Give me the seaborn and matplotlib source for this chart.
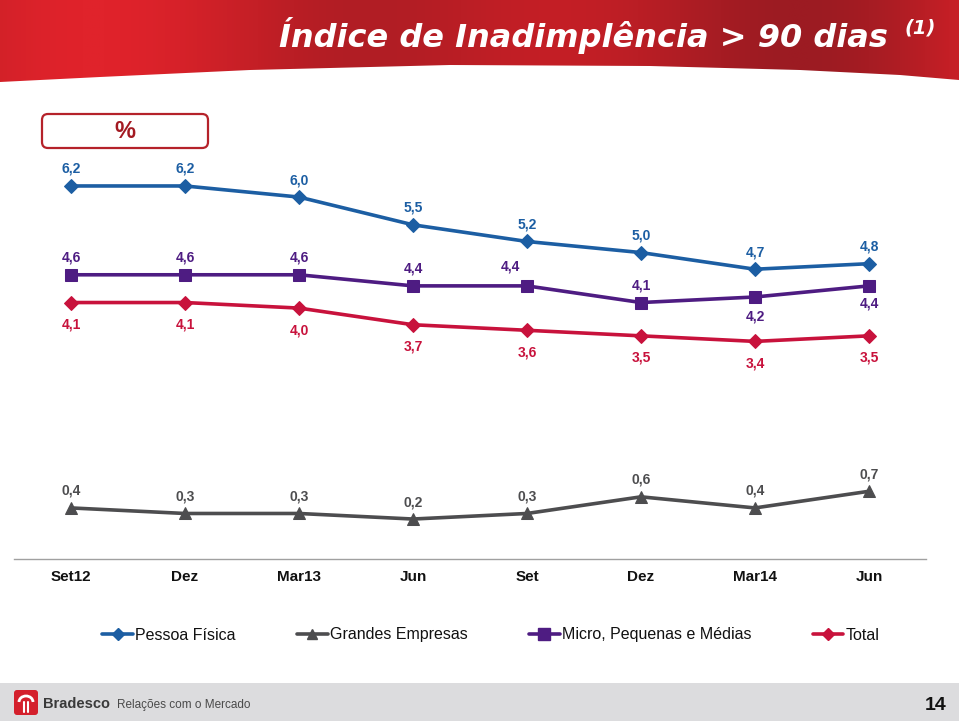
import numpy as np
import pandas as pd
import matplotlib
matplotlib.use("Agg")
import matplotlib.pyplot as plt
from matplotlib.patches import Polygon, FancyBboxPatch, Rectangle, Arc
from matplotlib.lines import Line2D
from matplotlib.colors import LinearSegmentedColormap
import seaborn as sns

# ---------------- data ----------------
categories = ["Set12", "Dez", "Mar13", "Jun", "Set", "Dez", "Mar14", "Jun"]
pessoa_fisica = [6.2, 6.2, 6.0, 5.5, 5.2, 5.0, 4.7, 4.8]
grandes_empresas = [0.4, 0.3, 0.3, 0.2, 0.3, 0.6, 0.4, 0.7]
micro_pme = [4.6, 4.6, 4.6, 4.4, 4.4, 4.1, 4.2, 4.4]
total = [4.1, 4.1, 4.0, 3.7, 3.6, 3.5, 3.4, 3.5]
series_names = ["Pessoa Física", "Grandes Empresas", "Micro, Pequenas e Médias", "Total"]

# ---------------- style ----------------
colors = {
    "Pessoa Física": "#1c5ea3",
    "Grandes Empresas": "#4d4d4f",
    "Micro, Pequenas e Médias": "#4e1c82",
    "Total": "#c8123c",
}
markers = {
    "Pessoa Física": "D",
    "Grandes Empresas": "^",
    "Micro, Pequenas e Médias": "s",
    "Total": "D",
}
msizes = {
    "Pessoa Física": 7,
    "Grandes Empresas": 8,
    "Micro, Pequenas e Médias": 9,
    "Total": 7,
}
# label offsets in pixels (dx, dy) per point
lab_off = {
    "Pessoa Física": [(0, 17)] * 8,
    "Grandes Empresas": [(0, 17)] * 8,
    "Micro, Pequenas e Médias": [(0, 17), (0, 17), (0, 17), (0, 17), (-17, 19), (0, 17), (0, -20), (0, -18)],
    "Total": [(0, -22)] * 8,
}

sns.set_theme(style="white")
plt.rcParams["font.family"] = ["Liberation Sans", "DejaVu Sans"]

W, H = 959, 721
fig = plt.figure(figsize=(W / 100, H / 100), dpi=100)
fig.patch.set_facecolor("white")

# ---------- background decorations ----------
bg = fig.add_axes([0, 0, 1, 1], zorder=-5)
bg.set_xlim(0, W)
bg.set_ylim(H, 0)
bg.axis("off")

curve = [(0, 82), (100, 77), (250, 70), (450, 65), (650, 66), (800, 70), (900, 75), (959, 80)]
banner = Polygon([(0, 0), (W, 0)] + curve[::-1], closed=True, facecolor="none", edgecolor="none")
bg.add_patch(banner)
xg = np.linspace(0, 1, 400)
grad = 0.5 + 0.5 * np.sin(xg * 9.0 + 0.6) * np.cos(xg * 3.0)
grad = np.tile(grad, (40, 1))
cmap = LinearSegmentedColormap.from_list("banner", ["#9c1b22", "#c41f26", "#e0232b"])
im = bg.imshow(grad, extent=[0, W, 95, 0], cmap=cmap, aspect="auto", zorder=0)
im.set_clip_path(banner)

bg.text(888, 36, "Índice de Inadimplência > 90 dias", ha="right", va="center",
        color="white", fontsize=23, fontweight="bold", fontstyle="italic", family="DejaVu Sans")
bg.text(936, 28, "(1)", ha="right", va="center",
        color="white", fontsize=14, fontweight="bold", fontstyle="italic", family="DejaVu Sans")

box = FancyBboxPatch((42, 114), 166, 34, boxstyle="round,pad=0,rounding_size=6",
                     facecolor="white", edgecolor="#b5222a", linewidth=1.6)
bg.add_patch(box)
bg.text(125, 132, "%", ha="center", va="center", color="#a31a22", fontsize=17, fontweight="bold")

# footer
bg.add_patch(Rectangle((0, 683), W, 38, facecolor="#dcdcde", edgecolor="none"))
bg.add_patch(FancyBboxPatch((14, 690), 24, 25, boxstyle="round,pad=0,rounding_size=3",
                            facecolor="#d4202c", edgecolor="none"))
bg.add_patch(Arc((26, 702), 14, 12, theta1=180, theta2=360, color="white", linewidth=2))
bg.plot([24, 24], [702, 712], color="white", linewidth=1.5)
bg.plot([28, 28], [702, 712], color="white", linewidth=1.5)
bg.text(43, 704, "Bradesco", ha="left", va="center", color="#3a3a3a", fontsize=10.5, fontweight="bold")
bg.text(117, 705, "Relações com o Mercado", ha="left", va="center", color="#4a4a4a", fontsize=8.5)
bg.text(947, 705, "14", ha="right", va="center", color="#111111", fontsize=14, fontweight="bold")

# ---------- main chart ----------
ax = fig.add_axes([14 / W, 1 - 559 / H, 912 / W, (559 - 141) / H])
ax.set_facecolor("none")

rows = []
for name, vals in zip(series_names, [pessoa_fisica, grandes_empresas, micro_pme, total]):
    for i, v in enumerate(vals):
        rows.append({"pos": i, "value": v, "series": name})
df = pd.DataFrame(rows)

for name in series_names:
    sub = df[df["series"] == name]
    sns.lineplot(data=sub, x="pos", y="value", ax=ax, color=colors[name], linewidth=2.6,
                 marker=markers[name], markersize=msizes[name], markeredgecolor=colors[name],
                 legend=False, zorder=3)
    for (i, v), (dx, dy) in zip(zip(sub["pos"], sub["value"]), lab_off[name]):
        ax.annotate(f"{v:.1f}".replace(".", ","), (i, v), xytext=(dx * 0.72, dy * 0.72),
                    textcoords="offset points", ha="center", va="center",
                    color=colors[name], fontsize=10, fontweight="bold")

ax.set_xlim(-0.5, 7.5)
ax.set_ylim(-0.52, 7.01)
ax.set_xticks(range(len(categories)))
ax.set_xticklabels(categories, fontsize=11, fontweight="bold", color="#111111")
ax.set_xticks(np.arange(-0.5, 8, 1), minor=True)
ax.tick_params(axis="x", which="major", length=0, pad=8)
ax.tick_params(axis="x", which="minor", length=6, color="#a0a0a0", width=1, direction="out")
ax.set_yticks([])
ax.set_xlabel("")
ax.set_ylabel("")
for s in ["top", "left", "right"]:
    ax.spines[s].set_visible(False)
ax.spines["bottom"].set_color("#a0a0a0")
ax.spines["bottom"].set_linewidth(1)

handles = [Line2D([0], [0], color=colors[n], marker=markers[n], markersize=msizes[n] - 1,
                  linewidth=2.6, markeredgecolor=colors[n]) for n in series_names]
fig.legend(handles, series_names, loc="center", bbox_to_anchor=(491 / W, 1 - 635 / H),
           ncol=4, frameon=False, fontsize=11.5, handlelength=1.9, handletextpad=0.15,
           columnspacing=3.85, labelcolor="#111111")

fig.savefig("out.png", dpi=100)
